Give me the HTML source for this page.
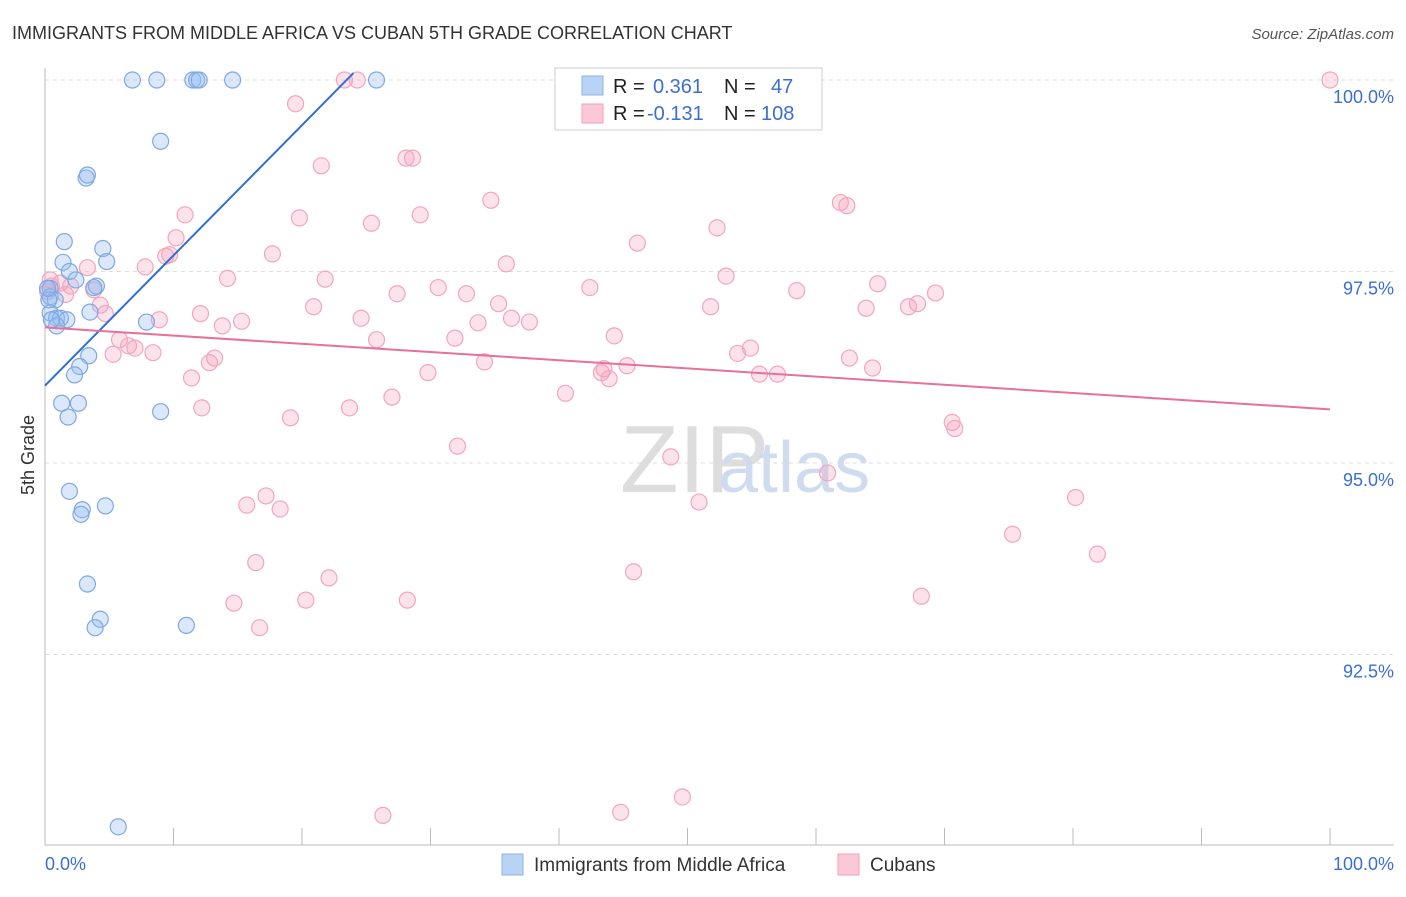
<!DOCTYPE html>
<html><head><meta charset="utf-8"><style>
body{margin:0;background:#fff;font-family:"Liberation Sans",sans-serif;}
svg text{font-family:"Liberation Sans",sans-serif;}
</style></head><body>
<svg id="chart" width="1406" height="892" xmlns="http://www.w3.org/2000/svg">
<text x="12" y="39" font-size="18" fill="#333">IMMIGRANTS FROM MIDDLE AFRICA VS CUBAN 5TH GRADE CORRELATION CHART</text>
<text x="1394" y="39" font-size="15" fill="#555" font-style="italic" text-anchor="end">Source: ZipAtlas.com</text>
<text x="34" y="455" font-size="18" fill="#333" transform="rotate(-90 34 455)" text-anchor="middle">5th Grade</text>
<text x="620" y="492" font-size="96" fill="#ddd" font-family="Liberation Serif">ZIP</text>
<text x="718" y="492" font-size="72" fill="#cfdcf0">atlas</text>
<g id="grid"></g><g id="pts"></g><g id="lines"></g>
<g>
<rect x="555" y="68" width="267" height="62" fill="#fff" stroke="#ccc"/>
<rect x="582" y="76" width="21" height="19" fill="#b9d3f5" stroke="#8ab3ea"/>
<rect x="582" y="104" width="21" height="19" fill="#fac8d7" stroke="#f0a0b8"/>
<text x="613" y="93" font-size="20" fill="#222">R = </text><text x="653" y="93" font-size="20" fill="#3a6fd0">0.361</text>
<text x="724" y="93" font-size="20" fill="#222">N = </text><text x="771" y="93" font-size="20" fill="#3a6fd0">47</text>
<text x="613" y="120" font-size="20" fill="#222">R = </text><text x="647" y="120" font-size="20" fill="#3a6fd0">-0.131</text>
<text x="724" y="120" font-size="20" fill="#222">N = </text><text x="761" y="120" font-size="20" fill="#3a6fd0">108</text>
</g>
<g>
<rect x="502" y="854" width="21" height="21" fill="#b9d3f5" stroke="#8ab3ea"/>
<text x="534" y="871" font-size="19" fill="#333">Immigrants from Middle Africa</text>
<rect x="838" y="854" width="21" height="21" fill="#fac8d7" stroke="#f0a0b8"/>
<text x="870" y="871" font-size="19" fill="#333">Cubans</text>
</g>
<text x="45" y="870" font-size="18" fill="#3a6fd0">0.0%</text>
<text x="1394" y="870" font-size="18" fill="#3a6fd0" text-anchor="end">100.0%</text>
</svg>
<script>
const yTicks=[100,97.5,95,92.5];
const yTickLabels=["100.0%","97.5%","95.0%","92.5%"];
const blueX=[6.8,8.7,11.5,11.8,12,14.6,25.8,9,3.2,3.3,1.5,4.5,4.8,1.4,1.9,2.4,0.4,4,3.8,0.4,0.8,0.4,3.5,0.9,1.2,1.7,7.9,0.9,3.4,2.7,2.3,1.3,2.6,1.8,9,1.9,2.9,2.8,4.7,3.3,4.3,3.9,11,5.7,0.3,0.5,0.2];
const blueY=[100,100,100,100,100,100,100,99.2,98.72,98.76,97.89,97.8,97.63,97.62,97.5,97.39,97.28,97.31,97.29,97.17,97.13,96.96,96.97,96.89,96.89,96.87,96.84,96.79,96.4,96.26,96.15,95.78,95.78,95.6,95.67,94.63,94.39,94.33,94.44,93.42,92.96,92.85,92.88,90.25,97.13,96.87,97.28];
const pinkX=[100,23.3,24.3,19.5,21.5,28.1,28.6,34.7,10.9,19.8,29.2,25.4,61.9,62.4,52.3,10.2,46.1,17.7,9.4,9.7,7.8,14.2,21.8,35.9,53,64.8,27.4,30.6,32.8,42.4,58.5,69.3,0.4,1.2,2,3.3,3.8,4.3,4.7,12.1,20.9,35.3,51.8,63.9,67.2,67.9,8.9,13.8,15.3,24.6,33.7,36.3,37.7,44.3,25.8,31.9,5.8,6.5,7,5.3,8.4,13.2,12.8,34.2,29.8,43.3,43.5,45.3,43.9,53.9,54.9,62.6,64.4,55.6,57,11.4,40.5,27,12.2,23.7,19.1,70.6,70.8,32.1,48.7,60.9,50.9,17.2,15.7,18.3,80.2,75.3,81.9,16.4,45.8,22.1,20.3,28.2,14.7,68.2,16.7,49.6,44.8,26.3,0.5,0.2,1.6];
const pinkY=[100,100,100,99.69,98.88,98.98,98.98,98.43,98.24,98.2,98.24,98.13,98.4,98.36,98.07,97.94,97.87,97.73,97.7,97.72,97.56,97.41,97.4,97.6,97.44,97.34,97.21,97.29,97.21,97.29,97.25,97.22,97.39,97.35,97.31,97.55,97.26,97.06,96.95,96.95,97.04,97.08,97.04,97.02,97.04,97.08,96.87,96.79,96.85,96.89,96.83,96.89,96.84,96.66,96.61,96.63,96.61,96.53,96.5,96.42,96.44,96.37,96.31,96.32,96.18,96.18,96.23,96.27,96.1,96.43,96.5,96.37,96.24,96.16,96.16,96.11,95.91,95.86,95.72,95.72,95.59,95.53,95.45,95.22,95.08,94.87,94.49,94.57,94.45,94.4,94.55,94.07,93.81,93.7,93.58,93.5,93.21,93.21,93.17,93.26,92.85,90.64,90.44,90.4,97.31,97.24,97.2];
const blueTrend=[96.01,0.17];   // intercept, slope per % x
const pinkTrend=[96.77,-0.0107];
const X=v=>45+v/100*1285, Y=v=>80+(100-v)*76.6;
const NS="http://www.w3.org/2000/svg";
function mk(t,a,p){const e=document.createElementNS(NS,t);for(const k in a)e.setAttribute(k,a[k]);p.appendChild(e);return e;}
const grid=document.getElementById('grid');
yTicks.forEach((t,i)=>{
  const l=mk('line',{x1:45,x2:1394,y1:Y(t),y2:Y(t),stroke:'#ddd','stroke-dasharray':'4,4'},grid);
  
  
  const tx=mk('text',{x:1394,y:Y(t)+23,'font-size':18,fill:'#3a6fd0','text-anchor':'end'},grid);
  tx.textContent=yTickLabels[i];
  
  
});
const ax=mk('line',{x1:45,x2:45,y1:68,y2:845,stroke:'#bbb'},grid);


const bx=mk('line',{x1:45,x2:1394,y1:845,y2:845,stroke:'#bbb'},grid);


for(let i=0;i<=10;i++){const t=mk('line',{x1:X(i*10),x2:X(i*10),y1:828,y2:845,stroke:'#bbb'},grid);
  
  }
const pts=document.getElementById('pts');
pinkX.forEach((x,i)=>{const c=mk('circle',{cx:X(x),cy:Y(pinkY[i]),r:8,fill:'rgba(245,160,185,0.3)',stroke:'#f2a6bd','stroke-width':1.2},pts);
  
  });
blueX.forEach((x,i)=>{const c=mk('circle',{cx:X(x),cy:Y(blueY[i]),r:8,fill:'rgba(150,190,240,0.35)',stroke:'#7fa8e3','stroke-width':1.2},pts);
  
  });
const lines=document.getElementById('lines');
const bl=mk('line',{x1:X(0),y1:Y(blueTrend[0]),x2:X(24),y2:Y(blueTrend[0]+blueTrend[1]*24),stroke:'#2f6fd6','stroke-width':2},lines);


const pl=mk('line',{x1:X(0),y1:Y(pinkTrend[0]),x2:X(100),y2:Y(pinkTrend[0]+pinkTrend[1]*100),stroke:'#e8709a','stroke-width':2},lines);


</script>
</body></html>
